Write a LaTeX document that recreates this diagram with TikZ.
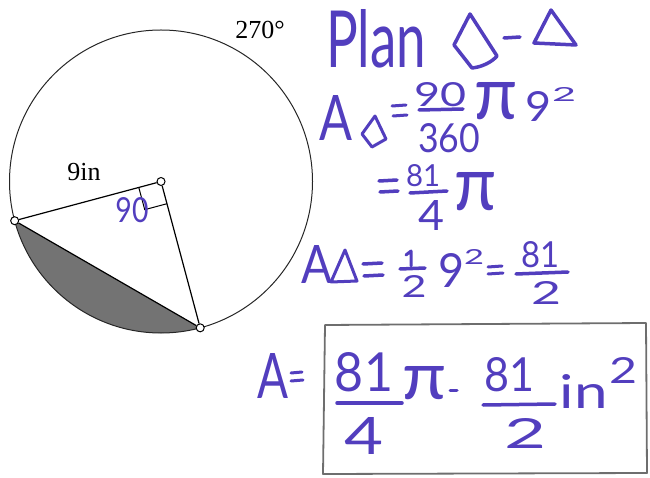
\documentclass[tikz,border=0pt]{standalone}
\usepackage{fontspec}
\setmainfont{Liberation Serif}
\newfontfamily\handfont{Lato}
\usetikzlibrary{calc}
\definecolor{ink}{RGB}{82,62,190}
\definecolor{pencil}{RGB}{110,110,110}
\newcommand\hw[3]{\resizebox{#1pt}{#2pt}{\handfont #3}}
\begin{document}
\begin{tikzpicture}[x=1pt,y=-1pt,
  hw/.style={inner sep=0pt,text=ink},
  ink stroke/.style={draw=ink,line width=3.5pt,line cap=round,line join=round},
  dot/.style={circle,draw=black,fill=white,line width=1pt,minimum size=8pt,inner sep=0pt},
  seg/.style={line width=1.2pt,black}]
\useasboundingbox (0,0) rectangle (650,478);
% --- circle figure ---
\coordinate (O) at (161,181.5);
\fill[black!55] ($(O)+(165:151.5)$) arc[start angle=165,end angle=75,radius=151.5] -- cycle;
\draw[line width=1pt,black!85] (O) circle[radius=151.5];
\node[dot] (C) at (O) {};
\node[dot] (P) at ($(O)+(165:151.5)$) {};
\node[dot] (Q) at ($(O)+(75:151.5)$) {};
\draw[seg] (P) -- (C);
\draw[seg] (C) -- (Q);
\draw[seg] (P) -- (Q);
\draw[line width=1pt] ($(O)+(165:23)$) -- ($(O)+(165:23)+(75:23)$) -- ($(O)+(75:23)$);
\node[inner sep=0pt,font=\fontsize{26}{26}\selectfont] (deg) at (260,30) {270°};
\node[inner sep=0pt,font=\fontsize{26}{26}\selectfont] (rad) at (84,172) {9in};
\node[hw] (ang) at (132,210) {\hw{33}{25}{90}};
% --- line 1: Plan ---
\node[hw] (plan) at (376,39) {\hw{100}{58}{Plan}};
\draw[ink stroke] (470,14) -- (454,45) -- (472,68) .. controls (482,67) and (492,62) .. (497,56) -- cycle;
\draw[ink stroke] (504,38) -- (520,37);
\draw[ink stroke] (551,10) -- (534,43) -- (576,45) -- cycle;
% --- line 2 ---
\node[hw] (a1) at (336,117.5) {\hw{33}{45}{A}};
\draw[ink stroke,line width=3pt] (375,116) -- (362,134) -- (372,147) -- (386,139) -- cycle;
\draw[ink stroke,line width=3pt] (392,106) -- (406,105) (393,116) -- (407,115);
\node[hw] (n90) at (440,95) {\hw{52}{24}{90}};
\draw[ink stroke] (419,110) -- (463,109);
\node[hw] (n360) at (449,138) {\hw{62}{29}{360}};
\node[hw] (pi1) at (496,101) {\hw{43}{37}{π}};
\node[hw] (nine1) at (538,107) {\hw{26}{30}{9}};
\node[hw] (sq1) at (564,95) {\hw{24}{14}{2}};
% --- line 3 ---
\draw[ink stroke] (379,181) -- (397,180) (380,192) -- (398,191);
\node[hw] (n81a) at (423,176) {\hw{34}{22}{81}};
\draw[ink stroke] (410,193) -- (447,191);
\node[hw] (n4a) at (431,215) {\hw{26}{30}{4}};
\node[hw] (pi2) at (476,192) {\hw{42}{38}{π}};
% --- line 4 ---
\node[hw] (a2) at (317,264) {\hw{31}{38}{A}};
\draw[ink stroke,line width=3pt] (345,250) -- (331,282) -- (357,281) -- cycle;
\draw[ink stroke] (363,264) -- (382,263) (364,276) -- (383,275);
\draw[ink stroke,line width=3pt] (406,255) -- (411,251) -- (411,266);
\draw[ink stroke] (400,269) -- (425,268);
\node[hw] (two1) at (414,286) {\hw{25}{22}{2}};
\node[hw] (nine2) at (451,270) {\hw{26}{34}{9}};
\node[hw] (sq2) at (474,257) {\hw{20}{15}{2}};
\draw[ink stroke,line width=3pt] (488,267) -- (502,266) (488,274) -- (503,273);
\node[hw] (n81b) at (540,255) {\hw{38}{26}{81}};
\draw[ink stroke] (516,274) -- (568,272);
\node[hw] (two2) at (546,293) {\hw{30}{23}{2}};
% --- line 5 (boxed answer) ---
\node[hw] (a3) at (273,376) {\hw{31}{45}{A}};
\draw[ink stroke,line width=3pt] (291,373) -- (302,372) (291,381) -- (303,380);
\draw[pencil,line width=1.8pt,line join=round] (325,325) -- (646,323) -- (647,473) -- (323,474) -- cycle;
\node[hw] (n81c) at (364,372) {\hw{58}{39}{81}};
\draw[ink stroke] (337,403) -- (402,403);
\node[hw] (n4b) at (364,436) {\hw{39}{37}{4}};
\node[hw] (pi3) at (425,383) {\hw{44}{33}{π}};
\draw[ink stroke,line width=3pt] (450,390) -- (457,390);
\node[hw] (n81d) at (509,375) {\hw{50}{34}{81}};
\draw[ink stroke] (483,405) -- (555,404);
\node[hw] (two3) at (526,433) {\hw{42}{30}{2}};
\node[hw] (inch) at (584,391) {\hw{48}{34}{in}};
\node[hw] (sq3) at (623,370) {\hw{28}{26}{2}};
\end{tikzpicture}
\end{document}
